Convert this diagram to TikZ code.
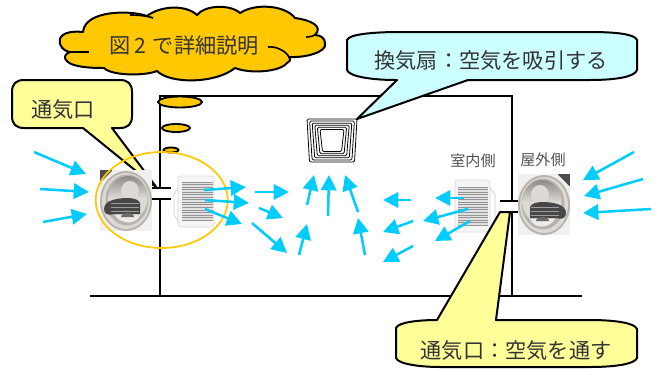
\documentclass[tikz,border=0pt]{standalone}
\usepackage{fontspec}
\setmainfont{Noto Sans CJK JP}
\usetikzlibrary{arrows.meta}
\definecolor{flow}{HTML}{00CCFF}
\definecolor{gold}{HTML}{FFC800}
\definecolor{paleyellow}{HTML}{FFFF99}
\definecolor{palecyan}{HTML}{CCFFFF}
\definecolor{inktext}{HTML}{333333}
\definecolor{steel}{HTML}{B9B3AD}
\definecolor{steellight}{HTML}{DDD9D5}
\definecolor{steeldark}{HTML}{8F8A85}
\tikzset{
  wall/.style={line width=1.6pt,black},
  balloon/.style={line width=1.5pt,draw=black,line join=round},
  flowarrow/.style={line width=1.9pt,flow,-{Triangle[length=11.5pt,width=11.5pt]}},
  big/.style={font=\fontsize{15.9pt}{18pt}\selectfont,text=inktext,inner sep=0pt},
  small/.style={font=\fontsize{11.3pt}{13pt}\selectfont,text=inktext!85,inner sep=0pt},
  louver/.style={line width=.55pt,black!42},
  bubble/.style={line width=1.4pt,draw=black,fill=gold},
  grille/.style={line width=.6pt,draw=black,rounded corners=1pt}
}
\newcommand{\hood}[3]{% x y flip
  \begin{scope}[shift={(#1,#2)},xscale=#3]
    \fill[black!6] (-26,-30) rectangle (26,31);
    \fill[black!70] (-26,-30) rectangle (-14,-18);
    \fill[black!6] (-26,-17) -- (-13,-30) -- (-13,-17) -- cycle;
    \fill[steel] (0,1) ellipse (26 and 30);
    \fill[steellight] (0,1) ellipse (24 and 28);
    \fill[steel] (1,0) ellipse (21.5 and 25.5);
    \shade[top color=steeldark,bottom color=steellight,middle color=steellight] (2,-2) ellipse (19.5 and 22);
    \fill[steellight] (4,-9) ellipse (9 and 10);
    \fill[black!72] (-22,9) .. controls (-22,0) and (-8,-2) .. (2,-2) .. controls (8,-2) and (13,0) .. (14,3)
       -- (14,14) -- (-12,14) .. controls (-18,16) and (-22,14) .. (-22,9) -- cycle;
    \foreach \sy in {3,7,11}{\fill[black!38] (-15,\sy) rectangle (13,\sy+1.2);}
    \fill[black!8] (-11,15) .. controls (-5,25) and (10,25) .. (14,15) -- cycle;
    \fill[black!58] (-5,17) arc (180:360:6.5 and 4) -- cycle;
  \end{scope}}
% body x0 y0 x1 y1, louver x0 y0 x1 y1
\newcommand{\fanbox}[8]{%
  \fill[black!4,rounded corners=2pt] (#1,#2) rectangle (#3,#4);
  \draw[black!15,line width=.4pt,rounded corners=2pt] (#1,#2) rectangle (#3,#4);
  \fill[black!12] (#5,#6) rectangle (#7,#8);
  \foreach \k in {0,...,15}{
    \draw[louver] (#5,{#6+(#8-#6)*\k/15}) -- (#7,{#6+(#8-#6)*\k/15});}
}
\begin{document}
\begin{tikzpicture}[x=.75pt,y=-.75pt]
\useasboundingbox (0,0) rectangle (659,368);
\fill[white] (0,0) rectangle (659,368);

% cloud
\draw[balloon,fill=gold]
  (83,32) .. controls (62,30) and (58,38) .. (60,44)
  .. controls (62,50) and (68,52) .. (70,52)
  .. controls (60,56) and (66,64) .. (78,66)
  .. controls (88,68) and (98,68) .. (104,68)
  .. controls (112,76) and (145,76) .. (157,71)
  .. controls (170,84) and (215,84) .. (235,68)
  .. controls (250,74) and (280,72) .. (287,63)
  .. controls (292,60) and (290,58) .. (289,57)
  .. controls (305,58) and (328,52) .. (325,43)
  .. controls (325,38) and (320,35) .. (315,35)
  .. controls (324,26) and (310,20) .. (295,18)
  .. controls (285,5) and (255,3) .. (240,13)
  .. controls (230,4) and (205,5) .. (197,15)
  .. controls (185,4) and (160,6) .. (147,16)
  .. controls (130,10) and (85,10) .. (83,32) -- cycle;
\draw[line width=1.2pt] (70,52) .. controls (76,52) and (84,52) .. (89,52);
\draw[line width=1.2pt] (268,47) .. controls (276,46) and (286,51) .. (289,57);
\draw[line width=1.2pt] (306,37) .. controls (310,37) and (313,36) .. (315,35);
\draw[line width=1.2pt] (130,15) .. controls (138,15) and (148,16) .. (153,18);
\node[big] (cloudtext) at (184,45) {図\hspace{3pt}2\hspace{5pt}で詳細説明};

% room
\draw[wall] (160,187) -- (160,96) -- (512,96) -- (512,201);
\draw[wall] (160,199) -- (160,296);
\draw[wall] (512,212) -- (512,296);
\draw[wall] (90,296) -- (582,296);
\draw[line width=1.1pt] (152,188) -- (171,188) (152,199) -- (171,199);
\draw[line width=1.1pt] (500,201) -- (520,201) (500,212) -- (520,212);

% thought bubbles
\draw[bubble] (180,102) ellipse (22 and 5.5);
\draw[bubble] (176,128) ellipse (14 and 4);
\draw[bubble] (171,150) ellipse (7.5 and 2.5);

% callout: 通気口
\draw[balloon,fill=paleyellow]
  (24,80) -- (120,80) .. controls (128,80) and (132,84) .. (132,92)
  -- (132,116) .. controls (132,124) and (128,128) .. (120,128)
  -- (112,128) -- (157,188) -- (83,128) -- (24,128)
  .. controls (16,128) and (12,124) .. (12,116)
  -- (12,92) .. controls (12,84) and (16,80) .. (24,80) -- cycle;
\node[big] (ventlabel) at (63,110) {通気口};

% callout: 換気扇
\draw[balloon,fill=palecyan]
  (347,40) .. controls (349,34) and (375,32) .. (400,32)
  -- (590,32) .. controls (615,32) and (635,34) .. (637,40)
  -- (637,70) .. controls (635,77) and (615,80) .. (590,80)
  -- (468,80) -- (357,119) -- (397,80) -- (395,80)
  .. controls (375,80) and (349,77) .. (347,70) -- cycle;
\node[big] (fanlabel) at (491,61) {換気扇：空気を吸引する};

% images
\hood{126}{200}{1}
\hood{544}{204}{-1}
\fanbox{178}{176}{214}{227}{182}{182}{213}{220}
\fanbox{455}{180}{490}{232}{458}{187}{488}{225}
\draw[black!20,line width=.5pt] (490,188) -- (495,194) -- (495,222) -- (490,228);
\draw[black!20,line width=.5pt] (178,188) -- (174,194) -- (174,215) -- (178,221);

% ceiling fan
\foreach \d in {0,2.6,...,15.6}{
  \draw[grille] ({307+\d},{119+\d*.8}) -- ({357-\d},{119+\d*.8}) -- ({354.5-\d},{162-\d*.8}) -- ({309.5+\d},{162-\d*.8}) -- cycle;
}

% large ring
\draw[gold,line width=1.3pt] (161.7,200) ellipse (66 and 48);

% callout: 通気口：空気を通す
\draw[balloon,fill=paleyellow]
  (396,328) .. controls (398,322) and (420,320) .. (437,320)
  -- (500,212) -- (510,212) -- (496,320)
  -- (590,320) .. controls (615,320) and (635,323) .. (637,329)
  -- (637,358) .. controls (635,364) and (615,367) .. (590,367)
  -- (440,367) .. controls (420,367) and (398,364) .. (396,358) -- cycle;
\node[big] (ductlabel) at (516,350) {通気口：空気を通す};

% side labels
\node[small] (indoor) at (473,161) {室内側};
\node[small] (outdoor) at (543,160) {屋外側};

% air flow
\foreach \ax/\ay/\bx/\by in {
  34/152/86/174, 40/189/89/192, 43/222/87/214,
  204/190/246/187, 205/200/249/203, 205/209/242/224,
  255/192/289/192, 259/208/283/218, 252/223/287/253,
  299/255/307/224, 307/205/314/175, 328/216/329/175,
  358/212/345/175, 365/255/358/218,
  411/200/383/200, 464/198/435/198, 468/209/423/221,
  470/221/435/241, 413/221/383/232, 413/246/383/262,
  634/152/583/180, 643/179/584/196, 651/209/583/213}
  \draw[flowarrow] (\ax,\ay) -- (\bx,\by);
\end{tikzpicture}
\end{document}
